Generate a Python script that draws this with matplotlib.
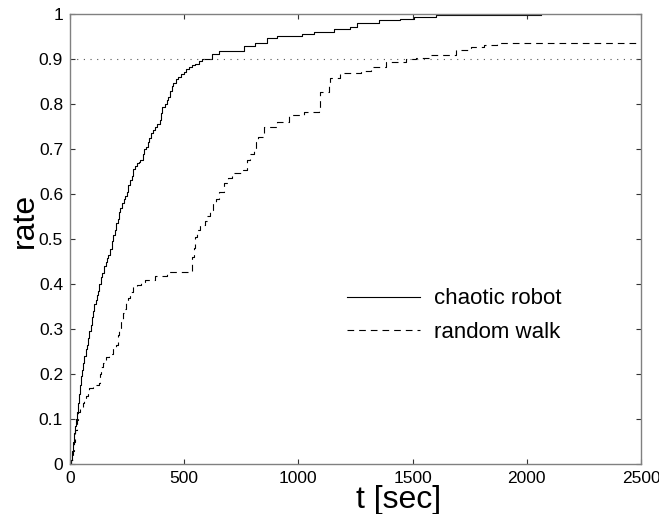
import numpy as np
import matplotlib
matplotlib.use("Agg")
import matplotlib.pyplot as plt

# Datos (curvas escalonadas)
t_chaotic = [0, 3, 8, 13, 18, 22, 26, 30, 35, 40, 44, 48, 53, 58, 63, 68, 73,
             78, 85, 90, 96, 102, 107, 113, 119, 124, 129, 136, 142, 150, 156,
             162, 168, 175, 183, 190, 196, 202, 208, 214, 220, 227, 235, 242,
             249, 256, 263, 270, 278, 285, 292, 300, 307, 320, 326, 332, 340,
             348, 356, 365, 372, 380, 392, 398, 402, 415, 425, 431, 440, 447,
             453, 465, 475, 485, 497, 508, 519, 535, 548, 565, 577, 621, 651,
             760, 811, 863, 906, 1016, 1067, 1155, 1228, 1257, 1352, 1447, 1506,
             1601, 2060]
rate_chaotic = [0, 0.01, 0.03, 0.05, 0.07, 0.085, 0.10, 0.115, 0.135, 0.155,
                0.175, 0.195, 0.21, 0.225, 0.24, 0.255, 0.265, 0.28, 0.295,
                0.31, 0.327, 0.34, 0.355, 0.365, 0.375, 0.385, 0.40, 0.415,
                0.425, 0.44, 0.45, 0.458, 0.465, 0.478, 0.495, 0.51, 0.52,
                0.535, 0.545, 0.56, 0.57, 0.58, 0.59, 0.595, 0.605, 0.62, 0.631,
                0.64, 0.655, 0.662, 0.668, 0.672, 0.676, 0.69, 0.70, 0.705,
                0.715, 0.725, 0.735, 0.742, 0.75, 0.755, 0.764, 0.78, 0.794,
                0.80, 0.81, 0.816, 0.83, 0.84, 0.846, 0.855, 0.861, 0.866,
                0.872, 0.878, 0.883, 0.887, 0.89, 0.895, 0.899, 0.912, 0.918,
                0.929, 0.935, 0.946, 0.952, 0.956, 0.961, 0.966, 0.972, 0.981,
                0.987, 0.990, 0.994, 0.997, 0.997]

t_random = [0, 6, 12, 18, 24, 29, 36, 43, 55, 62, 70, 77, 85, 100, 129, 133,
            136, 145, 158, 171, 187, 202, 209, 216, 224, 232, 240, 246, 255,
            263, 275, 292, 310, 329, 370, 424, 534, 541, 548, 556, 570, 590,
            602, 615, 626, 640, 651, 675, 690, 709, 757, 775, 790, 807, 815,
            822, 848, 906, 958, 1023, 1090, 1096, 1132, 1140, 1184, 1272, 1316,
            1382, 1469, 1513, 1579, 1689, 1754, 1813, 1871, 1974, 2500]
rate_random = [0, 0.01, 0.03, 0.05, 0.075, 0.098, 0.115, 0.127, 0.135, 0.145,
               0.152, 0.157, 0.168, 0.175, 0.18, 0.20, 0.216, 0.225, 0.238,
               0.245, 0.257, 0.265, 0.287, 0.30, 0.32, 0.335, 0.345, 0.357,
               0.37, 0.383, 0.394, 0.398, 0.405, 0.41, 0.418, 0.427, 0.46,
               0.48, 0.505, 0.52, 0.531, 0.54, 0.55, 0.565, 0.579, 0.59, 0.605,
               0.624, 0.635, 0.646, 0.653, 0.676, 0.69, 0.698, 0.715, 0.727,
               0.75, 0.761, 0.776, 0.783, 0.791, 0.827, 0.842, 0.857, 0.868,
               0.874, 0.883, 0.894, 0.899, 0.902, 0.909, 0.92, 0.927, 0.931,
               0.935, 0.935, 0.935]

umbral = 0.9
x_ticks = [0, 500, 1000, 1500, 2000, 2500]
y_ticks = np.round(np.arange(0, 1.01, 0.1), 1)
y_labels = ['0', '0.1', '0.2', '0.3', '0.4', '0.5', '0.6', '0.7', '0.8', '0.9', '1']

plt.rcParams['font.family'] = ['Liberation Sans', 'DejaVu Sans']
fuente_ejes = ['Liberation Sans Narrow', 'Liberation Sans', 'DejaVu Sans']

fig = plt.figure(figsize=(6.59, 5.14), dpi=100)
ax = fig.add_axes([70 / 659, 50 / 514, 571 / 659, 450 / 514])

ax.plot(t_chaotic, rate_chaotic, color='black', linewidth=0.8,
        drawstyle='steps-post', label='chaotic robot')
ax.plot(t_random, rate_random, color='black', linewidth=0.8,
        dashes=(6, 4.5), drawstyle='steps-post', label='random walk')
ax.axhline(umbral, color='#555555', linewidth=0.8, linestyle=(0, (1, 5)))

ax.set_xlim(0, 2500)
ax.set_ylim(0, 1)
ax.set_xticks(x_ticks)
ax.set_yticks(y_ticks)
ax.set_yticklabels(y_labels)
ax.tick_params(direction='in', top=True, right=True, length=3.6, width=0.8,
               color='#333333', labelsize=12.5, pad=5)
for s in ax.spines.values():
    s.set_color('#808080')
    s.set_linewidth(1.0)

fig.text(33 / 659, (514 - 248) / 514, 'rate', rotation=90, rotation_mode='anchor',
         ha='left', va='baseline', fontsize=23, family=fuente_ejes)
fig.text(399 / 659, (514 - 508) / 514, 't [sec]', ha='center', va='baseline',
         fontsize=23, family=fuente_ejes)

ax.legend(loc='upper left', bbox_to_anchor=(0.485, 0.39), frameon=False,
          fontsize=16, handlelength=3.3, handletextpad=0.6, labelspacing=0.55,
          borderpad=0, borderaxespad=0)

plt.savefig('out.png', dpi=100)
